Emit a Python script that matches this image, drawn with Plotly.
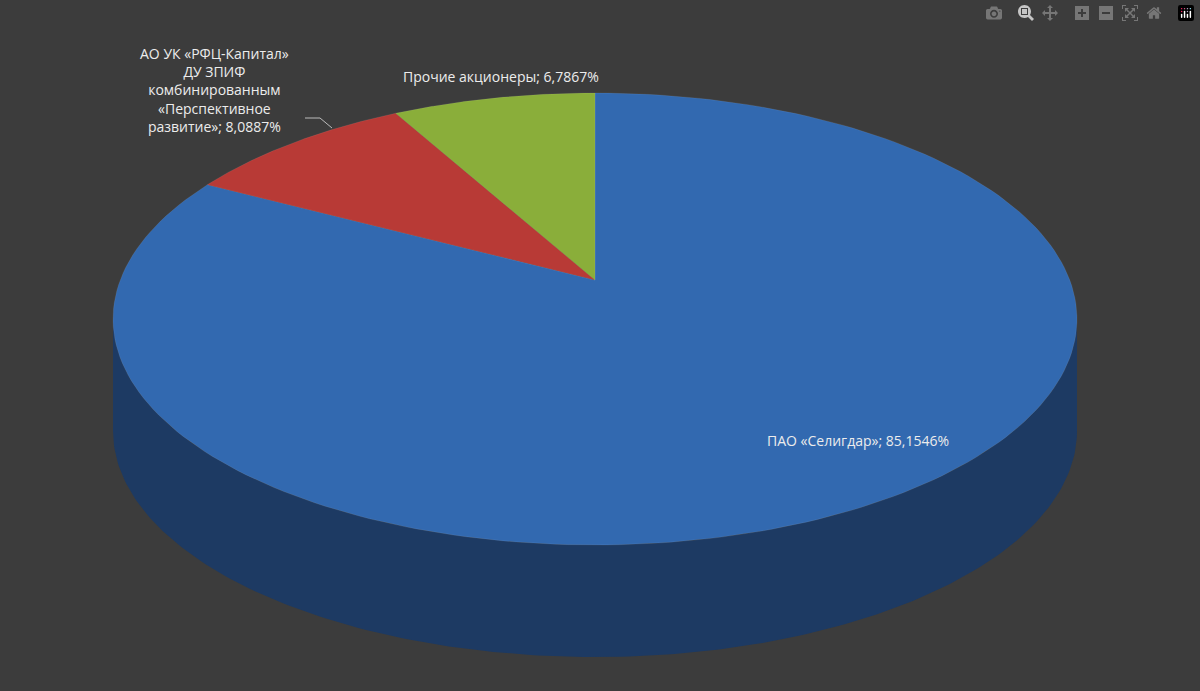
import numpy as np
import plotly.graph_objects as go

# shareholders, clockwise from 12 o'clock
names = ["ПАО «Селигдар»",
         "АО УК «РФЦ-Капитал»<br>ДУ ЗПИФ<br>комбинированным<br>«Перспективное<br>развитие»",
         "Прочие акционеры"]
shares = [85.1546, 8.0887, 6.7867]
top_colors = ["#3269b0", "#b83a36", "#8aae3a"]
side_colors = ["#1d3a63", "#7a2523", "#5a7326"]

# ellipse geometry in page pixels
cx, cy, rx, ry, depth = 595, 319, 482, 226, 112
apex_y = 280


def arc(t0, t1, n=200, dy=0):
    t = np.linspace(t0, t1, n)
    return cx + rx * np.sin(t), cy - ry * np.cos(t) + dy


fig = go.Figure()

bounds = np.concatenate([[0], np.cumsum(shares)]) / sum(shares) * 2 * np.pi

# side wall: only the front half (pi/2 .. 3pi/2) is visible
for i in range(len(shares)):
    a0 = max(bounds[i], np.pi / 2)
    a1 = min(bounds[i + 1], 3 * np.pi / 2)
    if a1 <= a0:
        continue
    x1, y1 = arc(a0, a1)
    x2, y2 = arc(a1, a0, dy=depth)
    fig.add_trace(go.Scatter(x=np.concatenate([x1, x2, x1[:1]]),
                             y=np.concatenate([y1, y2, y1[:1]]),
                             fill="toself", fillcolor=side_colors[i],
                             line=dict(width=0), mode="lines", hoverinfo="skip"))

# top face
for i in range(len(shares)):
    x, y = arc(bounds[i], bounds[i + 1])
    fig.add_trace(go.Scatter(x=np.concatenate([[cx], x, [cx]]),
                             y=np.concatenate([[apex_y], y, [apex_y]]),
                             fill="toself", fillcolor=top_colors[i],
                             line=dict(width=0.5, color="rgba(255,255,255,0.15)"),
                             mode="lines", hoverinfo="skip"))

font = dict(family="Open Sans", size=14, color="#ececec")
labels = [f"{n}; {str(v).replace('.', ',')}%" for n, v in zip(names, shares)]
fig.add_annotation(x=858, y=440, text=labels[0], showarrow=False, font=font)
fig.add_annotation(x=214, y=90, text=labels[1], showarrow=False, font=font)
fig.add_annotation(x=501, y=76, text=labels[2], showarrow=False, font=font)
fig.add_shape(type="line", x0=305, y0=118, x1=320, y1=118, line=dict(color="#bbbbbb", width=1))
fig.add_shape(type="line", x0=320, y0=118, x1=332, y1=128, line=dict(color="#bbbbbb", width=1))

fig.update_layout(
    width=1200, height=691, showlegend=False,
    margin=dict(l=0, r=0, t=0, b=0),
    paper_bgcolor="#3c3c3c", plot_bgcolor="#3c3c3c",
    xaxis=dict(range=[0, 1200], visible=False),
    yaxis=dict(range=[691, 0], visible=False),
)
fig.write_html("out.html",
               post_script="document.body.style.margin='0';document.body.style.background='#3c3c3c';document.body.style.overflow='hidden';")
